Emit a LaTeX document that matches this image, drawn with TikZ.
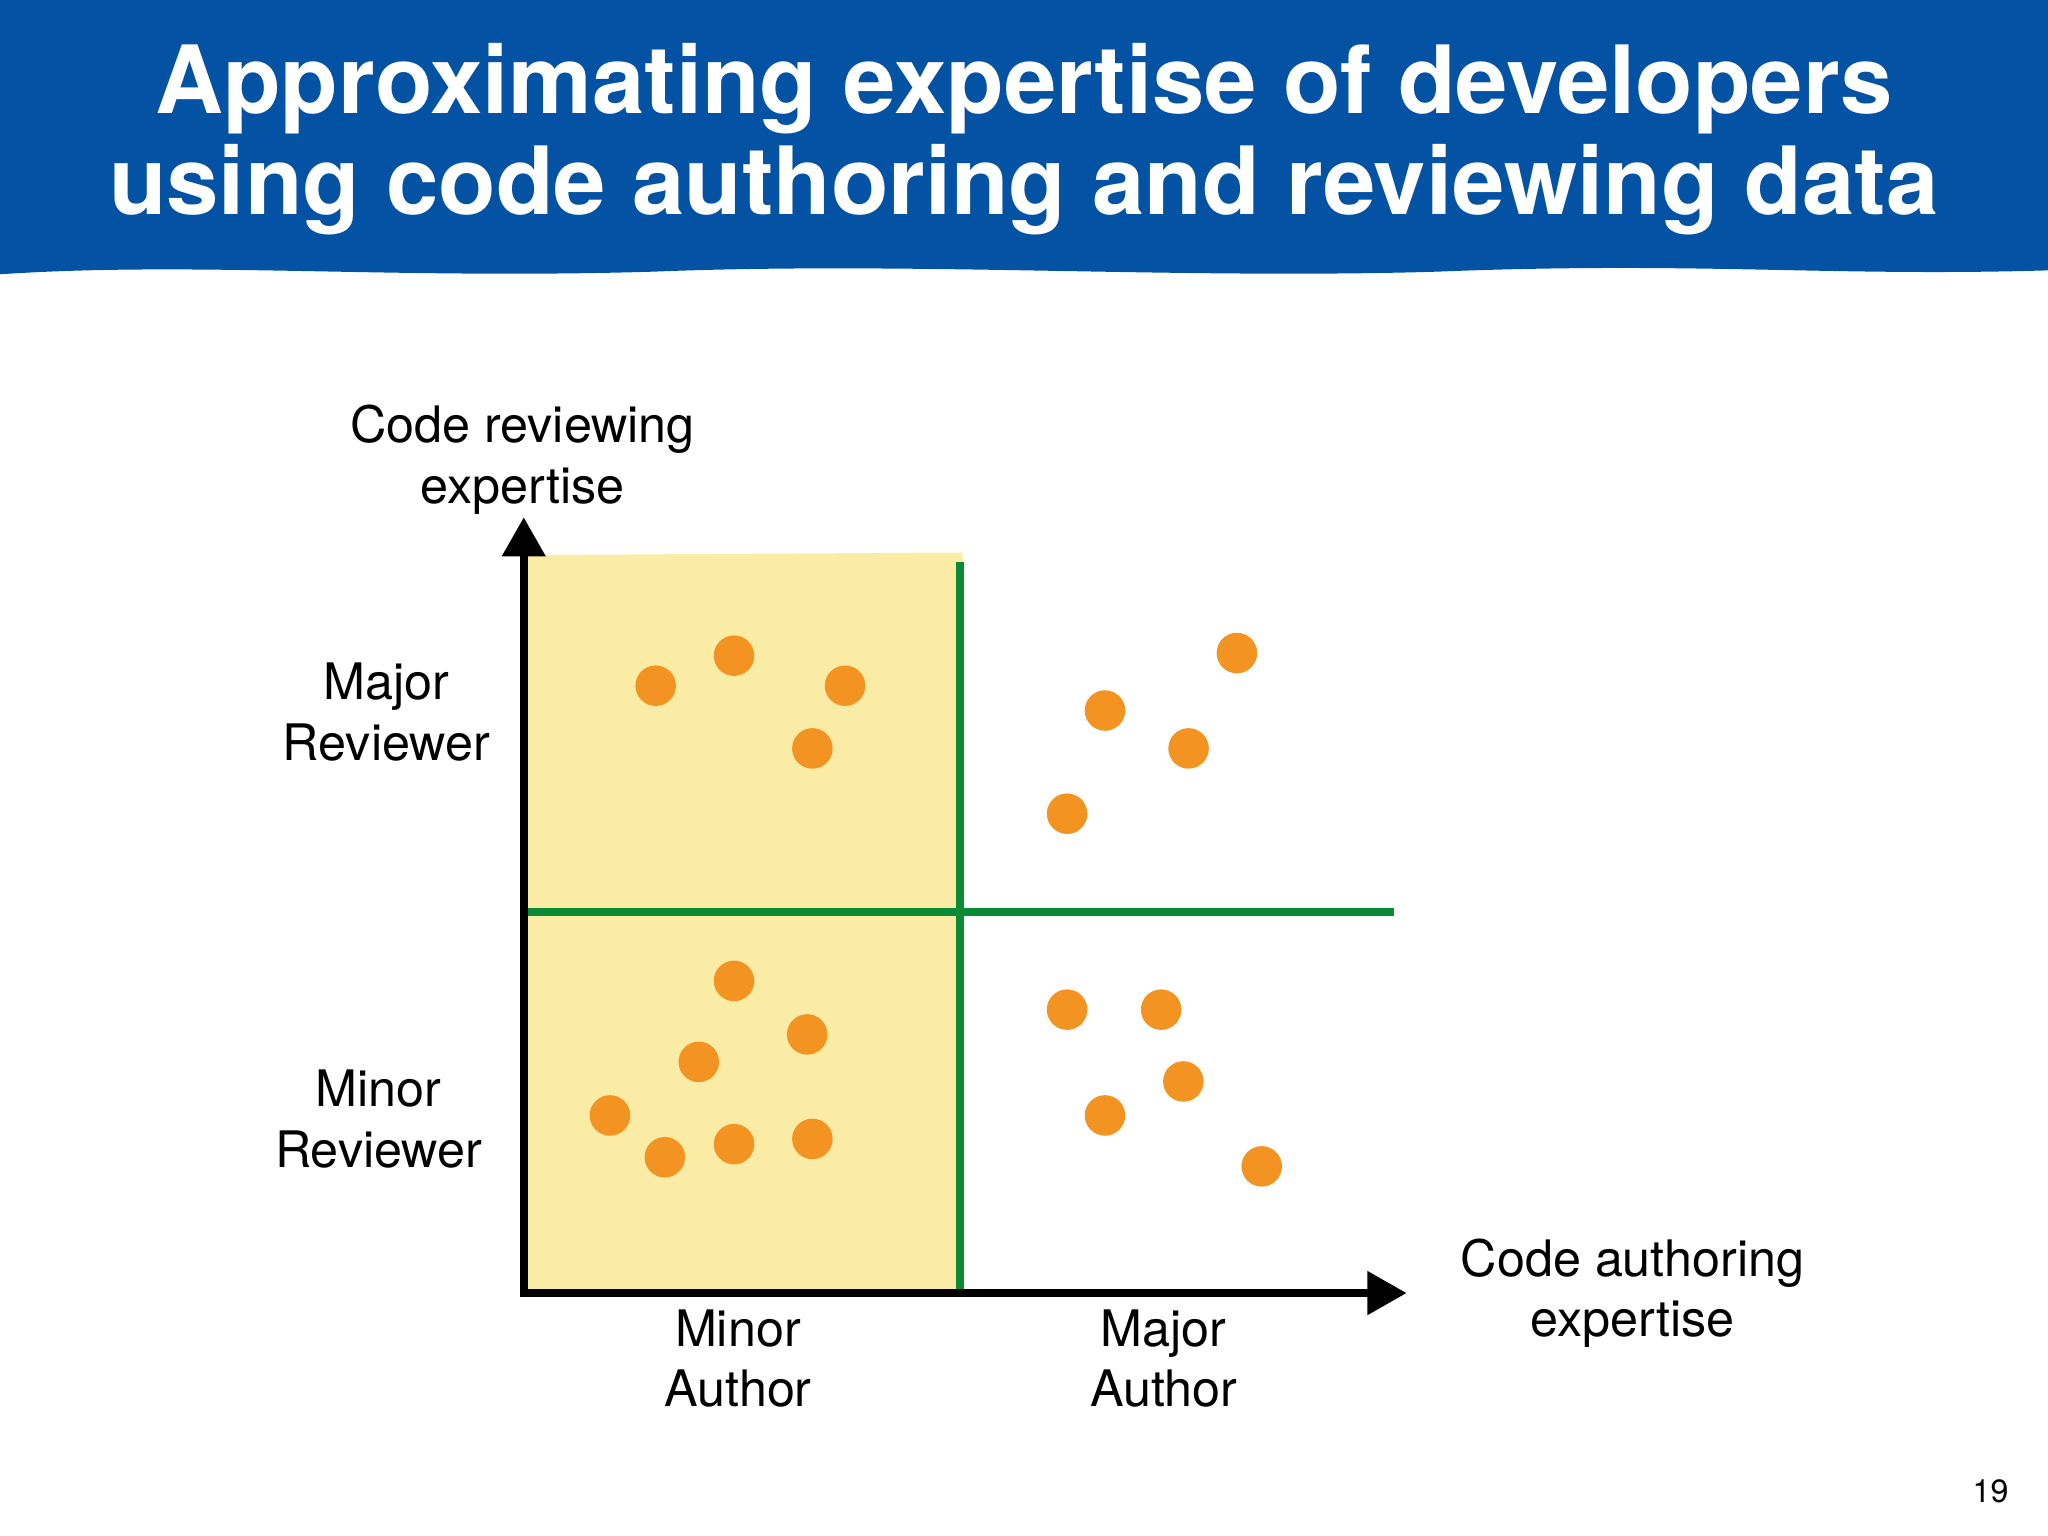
\documentclass[tikz,border=0pt]{standalone}
\usepackage{fontspec}
\setmainfont{TeX Gyre Heros}
\usetikzlibrary{arrows.meta}
\definecolor{banner}{HTML}{0452A4}
\definecolor{quad}{HTML}{FAEBA5}
\definecolor{grn}{HTML}{0A8A35}
\definecolor{dot}{HTML}{F39322}
\tikzset{
  lbl/.style={align=center,font=\fontsize{10.95pt}{13.2pt}\selectfont},
  dev/.style={circle,fill=dot,inner sep=0pt,minimum size=0.31cm},
  axis/.style={line width=1.8pt,-{Triangle[length=0.3cm,width=0.32cm]}},
  divider/.style={grn,line width=1.7pt}
}
\begin{document}
\begin{tikzpicture}[x=0.01cm,y=-0.01cm]
\useasboundingbox (0,0) rectangle (1568,1176);
\fill[banner] (0,0) -- (1568,0) -- (1568,207)
  .. controls (1400,212) and (1300,200) .. (1100,208)
  .. controls (900,214) and (700,200) .. (500,208)
  .. controls (300,214) and (150,200) .. (0,210) -- cycle;
\node[white,font=\bfseries\fontsize{20.5pt}{22pt}\selectfont] (t1) at (784,68) {Approximating expertise of developers};
\node[white,font=\bfseries\fontsize{20.5pt}{22pt}\selectfont] (t2) at (784,145) {using code authoring and reviewing data};
\fill[quad] (403,425) -- (737,423) -- (737,993) -- (403,993) -- cycle;
\coordinate (o) at (401,990);
\coordinate (yt) at (401,396);
\coordinate (xt) at (1077,990);
\coordinate (vt) at (735,430);
\coordinate (vb) at (735,990);
\coordinate (hl) at (403,698);
\coordinate (hr) at (1067,698);
\draw[divider] (vt) -- (vb);
\draw[divider] (hl) -- (hr);
\draw[axis] (401,993) -- (yt);
\draw[axis] (398,990) -- (xt);
\foreach \p [count=\i] in {(502,525),(562,502),(647,525),(622,573),(846,544),(947,500),(910,573),(817,623),(562,751),(618,792),(535,813),(467,854),(509,886),(562,876),(622,872),(817,773),(889,773),(906,828),(846,854),(966,893)}
  \node[dev] (d\i) at \p {};
\node[lbl] (ly) at (400,352) {Code reviewing\\expertise};
\node[lbl] (lmr) at (296,545) {Major\\Reviewer};
\node[lbl] (lnr) at (290,857) {Minor\\Reviewer};
\node[lbl] (lna) at (565,1040) {Minor\\Author};
\node[lbl] (lma) at (891,1040) {Major\\Author};
\node[lbl] (lx) at (1250,990) {Code authoring\\expertise};
\node[font=\fontsize{7pt}{8pt}\selectfont] (pg) at (1524,1142) {19};
\end{tikzpicture}
\end{document}
